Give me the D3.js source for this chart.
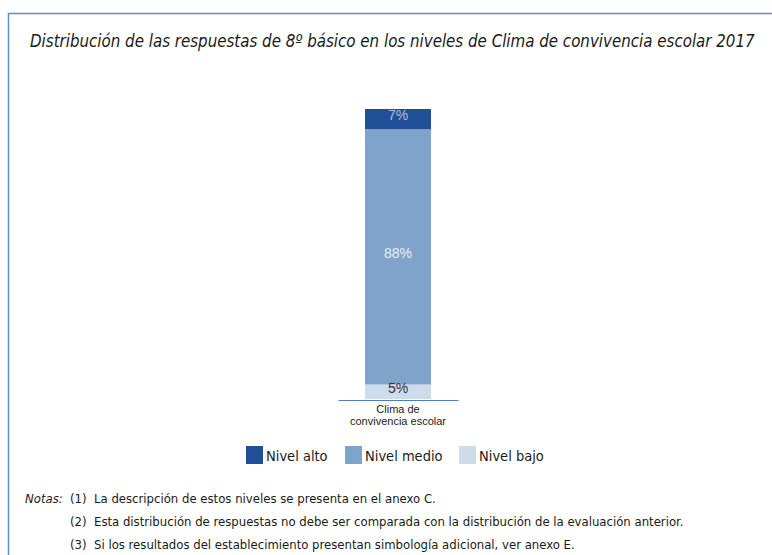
<!DOCTYPE html>
<html>
<head>
<meta charset="utf-8">
<script src="https://cdn.jsdelivr.net/npm/d3@7"></script>
<style>
  body { margin: 0; background: #fff; }
  svg { display: block; }
</style>
</head>
<body>
<script>
var width = 772,
    height = 555;

// data
var categories = ["Clima de convivencia escolar"];
var levels = ["Nivel alto", "Nivel medio", "Nivel bajo"];
var values = [7, 88, 5];   // alto, medio, bajo (%)
var colors = ["#1f4f96", "#7fa3ca", "#cddbea"];
var labelColors = ["#a9c0e0", "#e8eef6", "#333333"];
var notes = [
  "La descripción de estos niveles se presenta en el anexo C.",
  "Esta distribución de respuestas no debe ser comparada con la distribución de la evaluación anterior.",
  "Si los resultados del establecimiento presentan simbología adicional, ver anexo E."
];

var narrow = "'Liberation Sans Narrow', 'DejaVu Sans Condensed', 'Arial Narrow', sans-serif";

var svg = d3.select("body").append("svg")
    .attr("width", width)
    .attr("height", height);

// frame
svg.append("path")
    .attr("d", "M8.5," + height + "V13.5H" + width)
    .attr("fill", "none")
    .attr("stroke", "#5b8fd0")
    .attr("stroke-width", 1.5);

var title = svg.append("text")
    .attr("x", 30)
    .attr("y", 47)
    .style("font-family", narrow)
    .style("font-style", "italic")
    .style("font-size", "19px")
    .style("fill", "#1a1a1a")
    .text("Distribución de las respuestas de 8º básico en los niveles de Clima de convivencia escolar 2017");

// shrink the title font until it fits the frame
var fs = 19;
while (title.node().getComputedTextLength() > 728 && fs > 12) {
  fs -= 0.25;
  title.style("font-size", fs + "px");
}

var x = d3.scaleBand()
    .domain(categories)
    .range([338, 458])
    .paddingInner(0)
    .paddingOuter(0.41);

var y = d3.scaleLinear()
    .domain([0, 100])
    .range([399, 109]);

// stack: bajo at bottom, then medio, then alto
var order = [2, 1, 0];
var acc = 0;
var segs = order.map(function(i) {
  var s = {i: i, y0: acc, y1: acc + values[i]};
  acc += values[i];
  return s;
});

var bar = svg.append("g");
bar.selectAll("rect")
  .data(segs)
  .join("rect")
    .attr("x", x(categories[0]))
    .attr("width", x.bandwidth())
    .attr("y", function(d) { return y(d.y1); })
    .attr("height", function(d) { return y(d.y0) - y(d.y1); })
    .attr("fill", function(d) { return colors[d.i]; });

bar.selectAll("text")
  .data(segs)
  .join("text")
    .attr("x", x(categories[0]) + x.bandwidth() / 2)
    .attr("y", function(d) { return (y(d.y0) + y(d.y1)) / 2 + 1; })
    .attr("text-anchor", "middle")
    .style("font-family", "'Liberation Sans', Arial, sans-serif")
    .style("font-size", "14px")
    .style("fill", function(d) { return labelColors[d.i]; })
    .text(function(d) { return values[d.i] + "%"; });

// axis
var axis = svg.append("g")
    .attr("transform", "translate(0," + 400 + ")")
    .call(d3.axisBottom(x).tickSize(0).tickFormat(""));
axis.select(".domain").attr("stroke", "#4a7fc0").attr("stroke-width", 1.2);

var lab = svg.append("text")
    .attr("text-anchor", "middle")
    .style("font-family", "'Liberation Sans', Arial, sans-serif")
    .style("font-size", "11px")
    .style("fill", "#222");
lab.append("tspan")
    .attr("x", x(categories[0]) + x.bandwidth() / 2)
    .attr("y", 413)
    .text("Clima de");
lab.append("tspan")
    .attr("x", x(categories[0]) + x.bandwidth() / 2)
    .attr("y", 425)
    .text("convivencia escolar");

// legend
var legX = [246, 345, 459];
var leg = svg.append("g").selectAll("g")
  .data(levels)
  .join("g")
    .attr("transform", function(d, i) { return "translate(" + legX[i] + ",446)"; });
leg.append("rect")
    .attr("width", 17)
    .attr("height", 18)
    .attr("fill", function(d, i) { return colors[i]; });
leg.append("text")
    .attr("x", 20)
    .attr("y", 15)
    .style("font-family", narrow)
    .style("font-size", "14.5px")
    .style("fill", "#1a1a1a")
    .text(function(d) { return d; });

// notes
svg.append("text")
    .attr("x", 25)
    .attr("y", 503)
    .style("font-family", narrow)
    .style("font-style", "italic")
    .style("font-size", "13px")
    .style("fill", "#1a1a1a")
    .text("Notas:");

var nt = svg.append("g").selectAll("g")
  .data(notes)
  .join("g")
    .attr("transform", function(d, i) { return "translate(0," + (503 + i * 23) + ")"; });
nt.append("text")
    .attr("x", 70)
    .style("font-family", narrow)
    .style("font-size", "13px")
    .style("fill", "#1a1a1a")
    .text(function(d, i) { return "(" + (i + 1) + ")"; });
nt.append("text")
    .attr("x", 94)
    .style("font-family", narrow)
    .style("font-size", "13px")
    .style("fill", "#1a1a1a")
    .text(function(d) { return d; });
</script>
</body>
</html>
